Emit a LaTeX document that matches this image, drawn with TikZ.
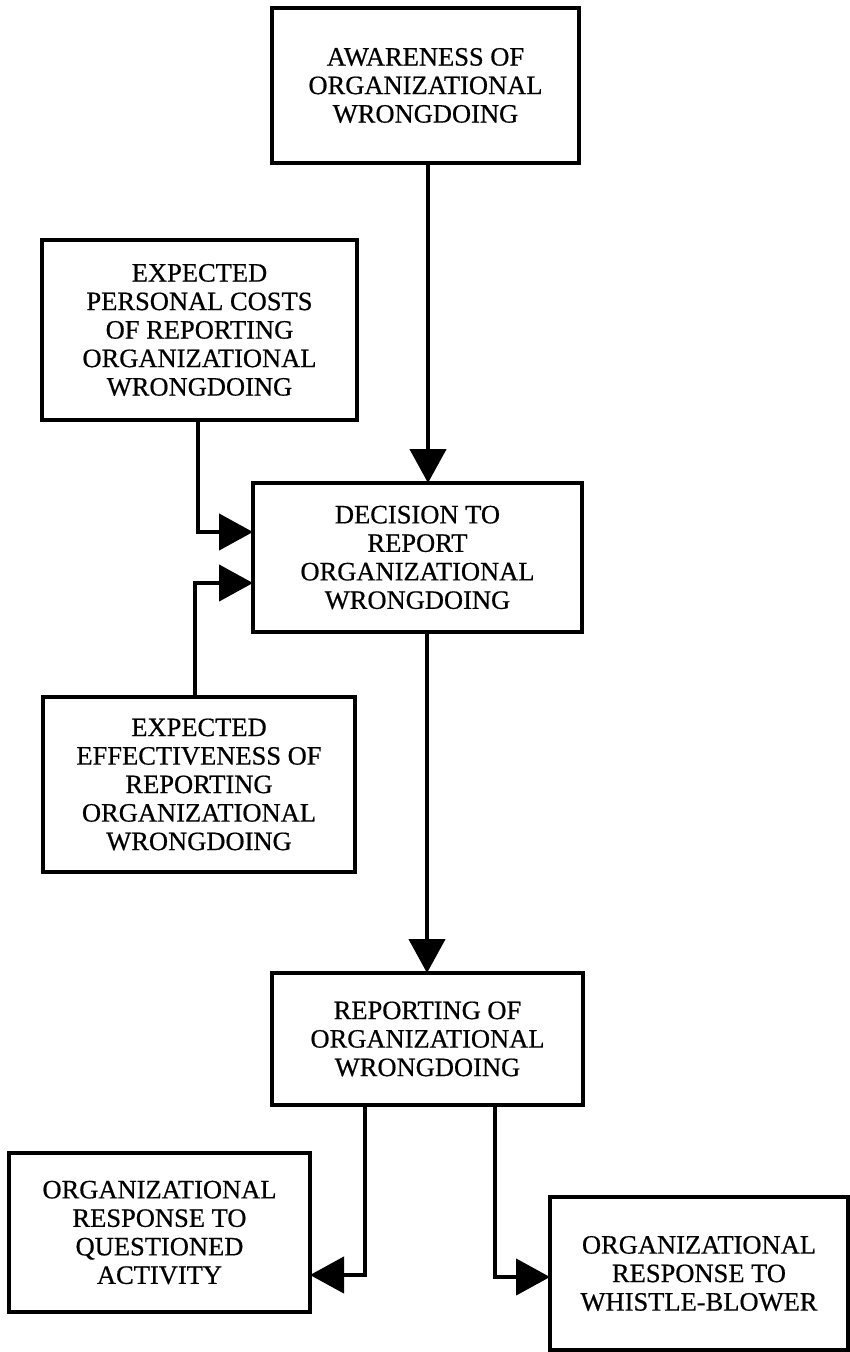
\documentclass[tikz,border=0pt]{standalone}
\usepackage{fontspec}
\setmainfont{Liberation Serif}[FakeBold=0.6]
\usetikzlibrary{arrows.meta}
\begin{document}
\begin{tikzpicture}[x=1pt,y=-1pt,
  box/.style={draw=black, line width=4.5pt, rectangle, inner sep=0pt, outer sep=0pt,
    align=center, font=\fontsize{26.5}{28.5}\selectfont},
  conn/.style={line width=4.5pt, -{Triangle[length=34pt,width=36pt]}}]
\useasboundingbox (0,0) rectangle (850,1352);
\node[box, minimum width=307pt, minimum height=155pt] (aw) at (425.5,85.5)
  {AWARENESS OF\\ORGANIZATIONAL\\WRONGDOING};
\node[box, minimum width=315pt, minimum height=180pt] (pc) at (199.5,330)
  {EXPECTED\\PERSONAL COSTS\\OF REPORTING\\ORGANIZATIONAL\\WRONGDOING};
\node[box, minimum width=329pt, minimum height=149pt] (dr) at (417.5,557.5)
  {DECISION TO\\REPORT\\ORGANIZATIONAL\\WRONGDOING};
\node[box, minimum width=312pt, minimum height=175pt] (ee) at (199,784.5)
  {EXPECTED\\EFFECTIVENESS OF\\REPORTING\\ORGANIZATIONAL\\WRONGDOING};
\node[box, minimum width=311pt, minimum height=132pt] (rp) at (427.5,1039)
  {REPORTING OF\\ORGANIZATIONAL\\WRONGDOING};
\node[box, minimum width=301pt, minimum height=159pt] (qa) at (159.5,1232.5)
  {ORGANIZATIONAL\\RESPONSE TO\\QUESTIONED\\ACTIVITY};
\node[box, minimum width=298pt, minimum height=153pt] (wb) at (699,1273.5)
  {ORGANIZATIONAL\\RESPONSE TO\\WHISTLE-BLOWER};
\draw[conn] (aw.south -| 428,0) -- (dr.north -| 428,0);
\draw[conn] (pc.south -| 198,0) |- (dr.west |- 0,532);
\draw[conn] (ee.north -| 195,0) |- (dr.west |- 0,583);
\draw[conn] (dr.south -| 427,0) -- (rp.north -| 427,0);
\draw[conn] (rp.south -| 365,0) |- (qa.east |- 0,1275);
\draw[conn] (rp.south -| 495,0) |- (wb.west |- 0,1277);
\end{tikzpicture}
\end{document}
